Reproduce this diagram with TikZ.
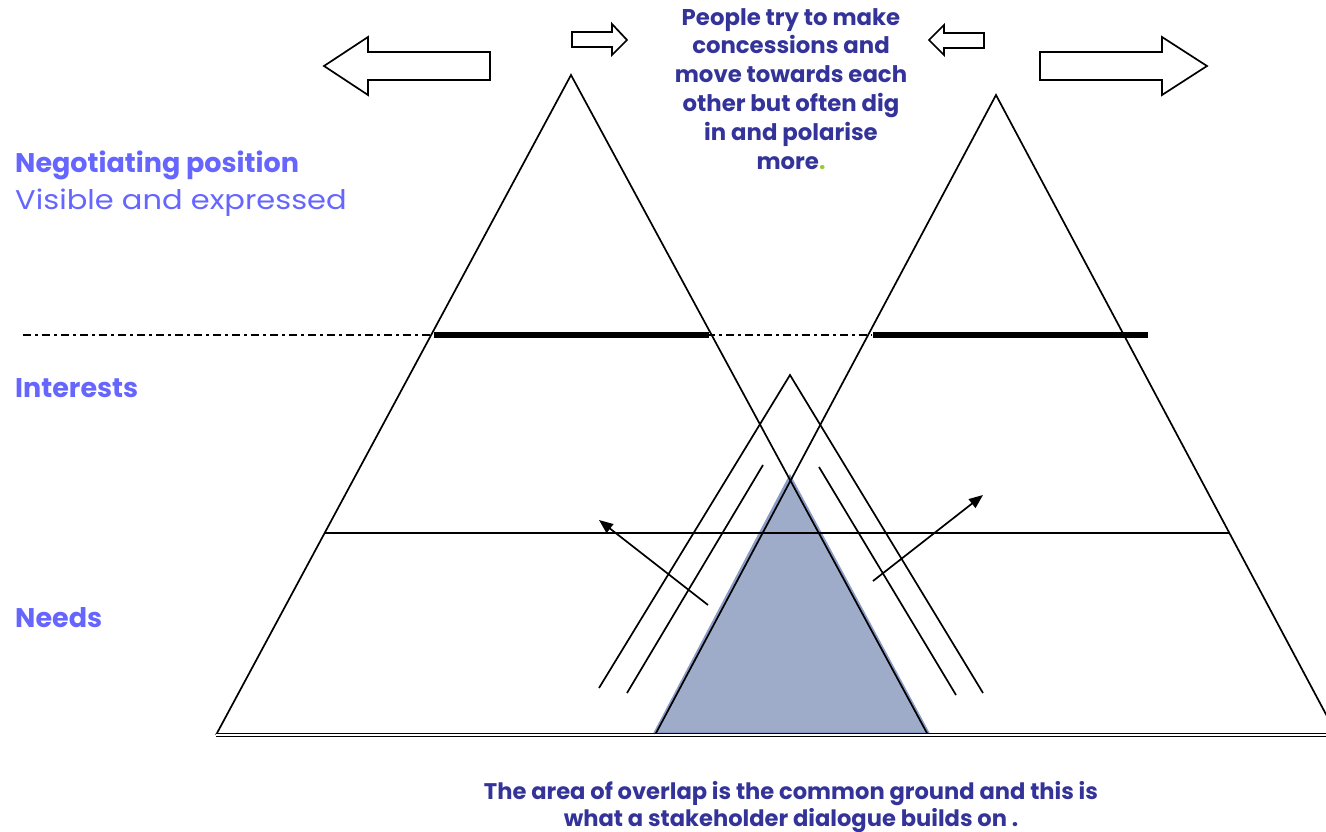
\documentclass[tikz,border=0pt]{standalone}
\usepackage{graphicx}
\usepackage{fontspec}
\setmainfont{Poppins}
\usetikzlibrary{arrows.meta}

\definecolor{labelblue}{HTML}{6666FF}
\definecolor{noteblue}{HTML}{333399}
\definecolor{overlapfill}{HTML}{9FACC9}
\definecolor{overlapedge}{HTML}{8A9CC6}
\definecolor{dotgreen}{HTML}{99CC33}

\tikzset{
  pyramidside/.style={line width=1.7},
  positionbar/.style={line width=6},
  blockarrow/.style={draw=black,fill=white,line width=1.7},
  shiftarrow/.style={line width=1.7,-{Triangle[length=14,width=11]}},
  levellabel/.style={anchor=base west,inner sep=0,text=labelblue,font=\fontsize{27}{32}\selectfont},
  levelbold/.style={levellabel,font=\bfseries\fontsize{27}{32}\selectfont},
  notetext/.style={align=center,inner sep=0,text=noteblue,font=\bfseries\fontsize{22.8}{28.8}\selectfont}
}

\begin{document}
\begin{tikzpicture}[x=1pt,y=-1pt]
\path[use as bounding box] (0,0) rectangle (1326,832);
\clip (0,0) rectangle (1326,832);

% common ground
\fill[overlapfill,draw=overlapedge,line width=3] (790,477) -- (928,733) -- (655,733) -- cycle;

% the two pyramids
\draw[pyramidside] (216,735) -- (571,75) -- (928,735);
\draw[pyramidside] (655,735) -- (996,95) -- (1337,735);
\draw[pyramidside] (325,533) -- (1229,533);
\draw[line width=1.6,double,double distance=1.4] (216,735) -- (1330,735);

% positions line
\draw[line width=1.4,dash pattern=on 8 off 4 on 3 off 4] (23,335) -- (872,335);
\draw[positionbar] (434,335) -- (709,335);
\draw[positionbar] (873,335) -- (1148,335);

% the inner roof
\draw[pyramidside] (599,688) -- (790,375) -- (983,693);
\draw[pyramidside] (763,465) -- (627,693);
\draw[pyramidside] (819,467) -- (956,695);

% shifting interests
\coordinate (lfrom) at (708,605);
\coordinate (lto) at (599,520);
\coordinate (rfrom) at (873,581);
\coordinate (rto) at (983,495);
\draw[shiftarrow] (lfrom) -- (lto);
\draw[shiftarrow] (rfrom) -- (rto);

% block arrows at the top
\draw[blockarrow] (324,66) -- (368,37) -- (368,52) -- (490,52) -- (490,80) -- (368,80) -- (368,95) -- cycle;
\draw[blockarrow] (627,40) -- (612,24) -- (612,32) -- (572,32) -- (572,47) -- (612,47) -- (612,55) -- cycle;
\draw[blockarrow] (929,40) -- (944,25) -- (944,33) -- (984,33) -- (984,48) -- (944,48) -- (944,55) -- cycle;
\draw[blockarrow] (1207,66) -- (1162,37) -- (1162,52) -- (1040,52) -- (1040,80) -- (1162,80) -- (1162,95) -- cycle;

% level labels
\node[levelbold] (position) at (15,172) {Negotiating position};
\node[levellabel] (visible) at (15,210) {\scalebox{1.13}[1]{Visible and expressed}};
\node[levelbold] (interests) at (15,397) {Interests};
\node[levelbold] (needs) at (15,627) {Needs};

% notes
\node[notetext,anchor=north] (concede) at (791,8) {People try to make\\concessions and\\move towards each\\other but often dig\\in and polarise\\more\textcolor{dotgreen}{.}};
\node[notetext,anchor=north,font=\bfseries\fontsize{22.6}{27}\selectfont] (overlap) at (791,781) {The area of overlap is the common ground and this is\\what a stakeholder dialogue builds on .};
\end{tikzpicture}
\end{document}
